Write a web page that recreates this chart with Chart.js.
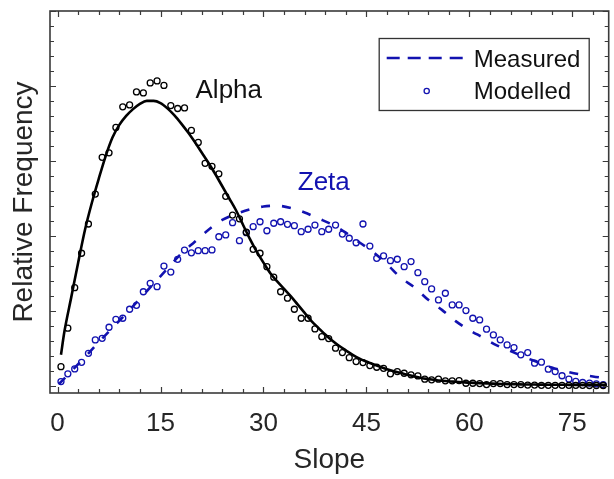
<!DOCTYPE html>
<html>
<head>
<meta charset="utf-8">
<title>Relative Frequency vs Slope</title>
<script src="https://cdn.jsdelivr.net/npm/chart.js@4.4.0/dist/chart.umd.min.js"></script>
<style>
  html, body { margin: 0; padding: 0; background: #fff; }
  #wrap { width: 614px; height: 479px; }
</style>
</head>
<body>
<div id="wrap"><canvas id="myChart" width="614" height="479"></canvas></div>
<script>
// bin centres used by the modelled (circle) series
const binSlope = [0.5, 1.5, 2.5, 3.5, 4.5, 5.5, 6.5, 7.5, 8.5, 9.5,
  10.5, 11.5, 12.5, 13.5, 14.5, 15.5, 16.5, 17.5, 18.5, 19.5,
  20.5, 21.5, 22.5, 23.5, 24.5, 25.5, 26.5, 27.5, 28.5, 29.5,
  30.5, 31.5, 32.5, 33.5, 34.5, 35.5, 36.5, 37.5, 38.5, 39.5,
  40.5, 41.5, 42.5, 43.5, 44.5, 45.5, 46.5, 47.5, 48.5, 49.5,
  50.5, 51.5, 52.5, 53.5, 54.5, 55.5, 56.5, 57.5, 58.5, 59.5,
  60.5, 61.5, 62.5, 63.5, 64.5, 65.5, 66.5, 67.5, 68.5, 69.5,
  70.5, 71.5, 72.5, 73.5, 74.5, 75.5, 76.5, 77.5, 78.5, 79.5];

const alphaModelled = [1.26, 3.83, 6.53, 8.83, 10.78, 12.78, 15.23, 15.53, 17.23, 18.6,
  18.73, 19.6, 19.53, 20.2, 20.33, 20.03, 18.69, 18.49, 18.53, 17.03,
  16.23, 14.83, 14.63, 14.13, 12.63, 11.38, 11.13, 10.23, 9.09, 8.83,
  7.93, 7.23, 6.26, 5.83, 5.09, 4.49, 4.49, 3.78, 3.26, 3.13,
  2.49, 2.2, 1.86, 1.6, 1.53, 1.33, 1.22, 1.15, 0.78, 0.93,
  0.82, 0.71, 0.64, 0.42, 0.38, 0.42, 0.31, 0.31, 0.33, 0.15,
  0.15, 0.13, 0.06, 0.13, 0.13, 0.06, 0.06, 0.06, 0.03, 0.03,
  0.01, 0.01, 0.01, 0.01, 0.01, 0.01, 0.01, 0.0, 0.0, 0.0];

const zetaModelled = [0.26, 0.78, 1.11, 1.55, 2.15, 3.04, 3.15, 3.89, 4.42, 4.49,
  5.09, 5.35, 6.26, 6.82, 6.6, 7.97, 7.57, 8.42, 9.04, 8.86,
  9.0, 9.0, 9.05, 9.93, 10.05, 10.87, 9.67, 10.2, 10.6, 10.93,
  10.33, 10.83, 10.93, 10.76, 10.67, 10.27, 10.43, 10.71, 10.27, 10.43,
  10.71, 10.11, 9.83, 9.53, 10.78, 9.31, 8.49, 8.65, 8.33, 8.43,
  7.93, 8.27, 7.53, 6.93, 6.45, 5.71, 6.16, 5.38, 5.38, 5.0,
  4.49, 4.38, 3.76, 3.38, 3.05, 2.71, 2.53, 2.05, 2.2, 1.49,
  1.56, 1.09, 0.93, 0.65, 0.43, 0.27, 0.2, 0.16, 0.11, 0.05];

// measured curves
const alphaCurveSlope = [0.5, 1, 2, 3, 4, 5, 6, 7, 8, 9, 10,
  11, 12, 13, 14, 15, 16, 17, 18, 19, 20,
  21, 22, 23, 24, 25, 26, 27, 28, 29, 30,
  31, 32, 33, 34, 35, 36, 37, 38, 39, 40,
  41, 42, 43, 44, 45, 46, 47, 48, 49, 50,
  51, 52, 53, 54, 55, 56, 57, 58, 59, 60,
  61, 62, 63, 64, 65, 66, 67, 68, 69, 70,
  71, 72, 73, 74, 75, 76, 77, 78, 79, 80];
const alphaMeasured = [2.05, 3.6, 5.9, 8.2, 10.4, 12.2, 13.8, 15.3, 16.55, 17.4, 18.0,
  18.45, 18.8, 19.0, 19.0, 18.85, 18.5, 18.05, 17.5, 16.9, 16.25,
  15.55, 14.85, 14.1, 13.3, 12.5, 11.7, 10.75, 9.8, 8.95, 8.2,
  7.5, 6.95, 6.45, 5.95, 5.4, 4.85, 4.3, 3.85, 3.4, 3.0,
  2.65, 2.35, 2.05, 1.8, 1.6, 1.42, 1.25, 1.09, 0.95, 0.83,
  0.72, 0.6, 0.5, 0.43, 0.37, 0.32, 0.28, 0.25, 0.22, 0.19,
  0.17, 0.15, 0.13, 0.11, 0.1, 0.09, 0.08, 0.07, 0.07, 0.06,
  0.06, 0.05, 0.05, 0.05, 0.04, 0.04, 0.04, 0.04, 0.03, 0.03];

const zetaCurveSlope = [0.2, 2, 4, 6, 8, 10, 12, 14, 16, 18, 20,
  22, 24, 26, 28, 30, 32, 34, 36, 38, 40,
  42, 44, 46, 48, 50, 52, 54, 56, 58, 60,
  62, 64, 66, 68, 70, 72, 74, 76, 78, 80];
const zetaMeasured = [0.1, 0.95, 1.9, 2.9, 3.85, 4.8, 5.8, 6.8, 7.8, 8.8, 9.6,
  10.4, 11.05, 11.45, 11.75, 11.95, 12.0, 11.85, 11.55, 11.15, 10.75,
  10.2, 9.55, 8.9, 8.1, 7.2, 6.55, 5.72, 5.05, 4.3, 3.7,
  3.2, 2.68, 2.3, 1.9, 1.55, 1.2, 0.95, 0.75, 0.6, 0.48];

const xTickLabels = ["0", "15", "30", "45", "60", "75"];

const FONT = "'Liberation Sans', Arial, Helvetica, sans-serif";
const BLUE = "#1212b0";
const BLACK = "#000000";

function toPoints(xs, ys) {
  return xs.map((x, i) => ({ x: x, y: ys[i] }));
}

// frame, inward ticks, labels and the legend box
const framePlugin = {
  id: "frame",
  afterDraw(chart) {
    const ctx = chart.ctx;
    const a = chart.chartArea;
    const xs = chart.scales.x;
    const ys = chart.scales.y;
    ctx.save();
    ctx.strokeStyle = "#3a3a3a";
    ctx.lineWidth = 1.2;
    ctx.beginPath();
    xs.ticks.forEach(t => {
      const px = Math.round(xs.getPixelForValue(t.value)) + 0.5;
      const len = t.value % 15 === 0 ? 6 : 4;
      ctx.moveTo(px, a.bottom); ctx.lineTo(px, a.bottom - len);
      ctx.moveTo(px, a.top); ctx.lineTo(px, a.top + len);
    });
    ys.ticks.forEach(t => {
      const py = Math.round(ys.getPixelForValue(t.value)) + 0.5;
      const len = t.value % 5 === 0 ? 6 : 4;
      ctx.moveTo(a.left, py); ctx.lineTo(a.left + len, py);
      ctx.moveTo(a.right, py); ctx.lineTo(a.right - len, py);
    });
    ctx.stroke();
    ctx.lineWidth = 1.6;
    ctx.strokeRect(a.left, a.top, a.right - a.left, a.bottom - a.top);

    // series labels
    ctx.font = "26px " + FONT;
    ctx.textAlign = "left";
    ctx.textBaseline = "alphabetic";
    ctx.fillStyle = "#111";
    ctx.fillText("Alpha", xs.getPixelForValue(20.1), ys.getPixelForValue(19.2));
    ctx.fillStyle = BLUE;
    ctx.fillText("Zeta", xs.getPixelForValue(35.0), ys.getPixelForValue(13.05));

    // legend
    const bx = a.right - 230, by = a.top + 27, bw = 210, bh = 72;
    ctx.fillStyle = "#fff";
    ctx.fillRect(bx, by, bw, bh);
    ctx.strokeStyle = "#333";
    ctx.lineWidth = 1.3;
    ctx.strokeRect(bx + 0.5, by + 0.5, bw, bh);
    ctx.strokeStyle = BLUE;
    ctx.lineWidth = 2.5;
    ctx.setLineDash([13, 8]);
    ctx.beginPath();
    ctx.moveTo(bx + 8, by + 20); ctx.lineTo(bx + 84, by + 20);
    ctx.stroke();
    ctx.setLineDash([]);
    ctx.lineWidth = 1.3;
    ctx.beginPath();
    ctx.arc(bx + 48, by + 53, 2.6, 0, Math.PI * 2);
    ctx.stroke();
    ctx.fillStyle = "#111";
    ctx.font = "24px " + FONT;
    ctx.textBaseline = "middle";
    ctx.fillText("Measured", bx + 95, by + 22);
    ctx.fillText("Modelled", bx + 95, by + 54);
    ctx.restore();
  }
};

new Chart(document.getElementById("myChart"), {
  type: "scatter",
  data: {
    datasets: [
      {
        label: "Alpha measured",
        data: toPoints(alphaCurveSlope, alphaMeasured),
        showLine: true,
        borderColor: BLACK,
        borderWidth: 2.6,
        pointRadius: 0,
        cubicInterpolationMode: "monotone"
      },
      {
        label: "Alpha modelled",
        data: toPoints(binSlope, alphaModelled),
        showLine: false,
        pointRadius: 3,
        pointBorderWidth: 1.3,
        pointBorderColor: BLACK,
        pointBackgroundColor: "rgba(0,0,0,0)"
      },
      {
        label: "Measured",
        data: toPoints(zetaCurveSlope, zetaMeasured),
        showLine: true,
        borderColor: BLUE,
        borderWidth: 2.6,
        borderDash: [9, 12],
        pointRadius: 0,
        cubicInterpolationMode: "monotone"
      },
      {
        label: "Modelled",
        data: toPoints(binSlope, zetaModelled),
        showLine: false,
        pointRadius: 3,
        pointBorderWidth: 1.3,
        pointBorderColor: BLUE,
        pointBackgroundColor: "rgba(0,0,0,0)"
      }
    ]
  },
  options: {
    responsive: false,
    animation: false,
    layout: { padding: { top: 11, right: 1, left: 0, bottom: 0 } },
    plugins: {
      legend: { display: false },
      tooltip: { enabled: false }
    },
    scales: {
      x: {
        type: "linear",
        min: -1.1,
        max: 80.3,
        grid: { display: false, drawTicks: false },
        border: { display: false },
        ticks: {
          stepSize: 3,
          autoSkip: false,
          maxRotation: 0,
          includeBounds: false,
          padding: 15,
          color: "#262626",
          font: { family: FONT, size: 26 },
          callback: (v) => xTickLabels.includes(String(v)) ? String(v) : ""
        },
        title: {
          display: true,
          text: "Slope",
          color: "#262626",
          font: { family: FONT, size: 28 },
          padding: { top: 0, bottom: 2 }
        },
        afterFit: (scale) => { scale.height = 86; }
      },
      y: {
        type: "linear",
        min: -0.5,
        max: 25,
        grid: { display: false, drawTicks: false },
        border: { display: false },
        ticks: { stepSize: 1, includeBounds: false, display: false },
        title: {
          display: true,
          text: "Relative Frequency",
          color: "#262626",
          font: { family: FONT, size: 28 },
          padding: { top: 7, bottom: 0 }
        },
        afterFit: (scale) => { scale.width = 50; }
      }
    }
  },
  plugins: [framePlugin]
});
</script>
</body>
</html>
